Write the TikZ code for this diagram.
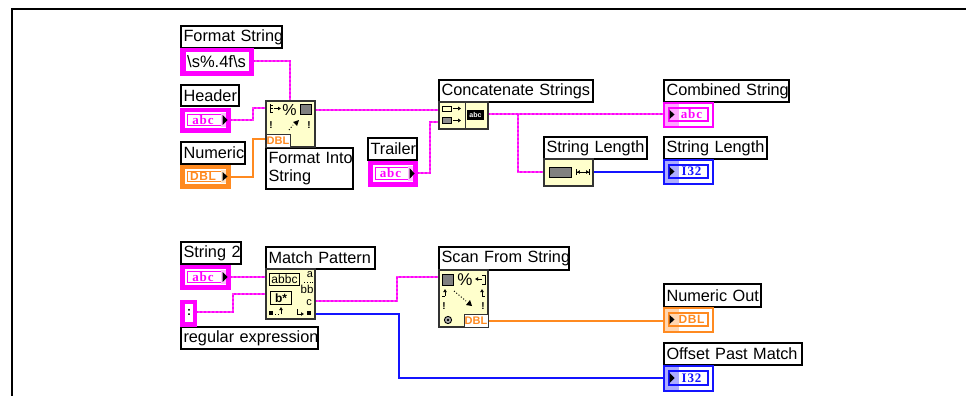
\documentclass[tikz,border=0pt]{standalone}
\usepackage{fontspec}
\setmainfont{Liberation Sans}
\newfontfamily\serifb[LetterSpace=7]{Liberation Serif}
\newfontfamily\sansb[LetterSpace=5]{Liberation Sans}
\usetikzlibrary{calc,arrows.meta}
\definecolor{pk}{HTML}{FF00FF}
\definecolor{pkw}{HTML}{FF40F0}
\definecolor{og}{HTML}{FF8A20}
\definecolor{bl}{HTML}{1414FF}
\definecolor{fy}{HTML}{FFFFCC}
\definecolor{edge}{HTML}{333333}
\tikzset{
  lbl/.style={draw=black,line width=1.3pt,fill=white,inner xsep=2.5pt,inner ysep=0pt,outer sep=0pt,align=left,font=\fontsize{16.3}{19}\selectfont,anchor=north west},
  func/.style={draw=edge,line width=1.2pt,fill=fy,inner sep=0pt,outer sep=0pt,anchor=north west},
  ctrlbox/.style={fill=#1,draw=#1,line width=0.5pt,inner sep=0pt,outer sep=0pt,anchor=north west},
  indbox/.style={fill=white,draw=#1,line width=1.6pt,inner sep=0pt,outer sep=0pt,anchor=north west},
  pw/.style={draw=pkw,line width=1.3pt,postaction={draw=pk,line width=2.4pt,dash pattern=on 2pt off 2pt}},
  ow/.style={draw=og,line width=1.3pt},
  bw/.style={draw=bl,line width=1.4pt},
  tag/.style={inner sep=0pt,font=\serifb\bfseries\fontsize{13}{13}\selectfont,text=#1},
  tagd/.style={inner sep=0pt,font=\sansb\bfseries\fontsize{12}{12}\selectfont,text=#1},
  dbl/.style={inner sep=0pt,font=\bfseries\fontsize{11}{11}\selectfont,text=og},
  ico/.style={inner sep=0pt,font=\fontsize{#1}{#1}\selectfont},
  icob/.style={inner sep=0pt,font=\bfseries\fontsize{10}{10}\selectfont},
  tri/.style={fill=black,draw=none},
  mini/.style={line width=1pt,draw=black}
}
\newcommand{\mylab}[6]{\pgfmathsetmacro\bw{#4-#2}\pgfmathsetmacro\bh{#5-#3}%
  \node[lbl,minimum width=\bw pt,minimum height=\bh pt,text width=\bw pt-5pt] (#1) at (#2,#3) {#6};}
\newcommand{\myctrl}[8]{\pgfmathsetmacro\bw{#4-#2}\pgfmathsetmacro\bh{#5-#3}%
  \node[ctrlbox=#6,minimum width=\bw pt,minimum height=\bh pt] (#1) at (#2,#3) {};
  \fill[white] (#2+5,#3+4) rectangle (#4-4,#5-4);
  \draw[#6,line width=1.1pt] (#2+7.5,#3+6.5) rectangle (#4-8,#5-6.5);
  \fill[#6!25] (#4-9,#3+5) rectangle (#4-4,#5-5);
  \fill[tri] (#4-7.5,#3+7) -- (#4-2.5,{(#3+#5)/2}) -- (#4-7.5,#5-7) -- cycle;
  \node[#8=#6] (#1t) at ({(#2+#4)/2-2},{(#3+#5)/2}) {#7};}
\newcommand{\myind}[8]{\pgfmathsetmacro\bw{#4-#2}\pgfmathsetmacro\bh{#5-#3}%
  \node[indbox=#6,minimum width=\bw pt,minimum height=\bh pt] (#1) at (#2,#3) {};
  \fill[#6!35] (#2+1,#3+1) rectangle (#2+15,#5-1);
  \draw[#6,line width=1.3pt] (#2+5,#3+5) rectangle (#4-5,#5-6);
  \node[#8=#6] (#1t) at ({(#2+#4)/2+3},{(#3+#5)/2-.5}) {#7};
  \fill[tri] (#2+5.5,#3+7) -- (#2+10.5,{(#3+#5)/2-.5}) -- (#2+5.5,#5-8) -- cycle;}
\begin{document}
\begin{tikzpicture}[x=1pt,y=-1pt]
\useasboundingbox (0,0) rectangle (966,396);
\fill[white] (0,0) rectangle (966,396);
\draw[black,line width=2.3pt] (12.2,396) -- (12.2,9.2) -- (966,9.2);

% terminals
\coordinate (fiA) at (266,108);
\coordinate (fiB) at (266,139);
\coordinate (fiT) at (290,101);
\coordinate (fiO) at (315,110);
\coordinate (caA) at (439,110);
\coordinate (caB) at (439,122);
\coordinate (caO) at (488,114);
\coordinate (csI) at (664,114);
\coordinate (slI) at (544,172);
\coordinate (slO) at (593,172);
\coordinate (mpA) at (266,277);
\coordinate (mpB) at (266,294);
\coordinate (mpO) at (315,301);
\coordinate (mpF) at (315,314);
\coordinate (sfI) at (439,277);
\coordinate (sfO) at (488,321);

% wires (behind)
\draw[pw] (253,61) -- (290,61) -- (fiT);
\draw[pw] (230,120) -- (253,120) -- (253,108) -- (fiA);
\draw[ow] (230,177) -- (253,177) -- (253,139) -- (fiB);
\draw[pw] (fiO) -- (caA);
\draw[pw] (417,173) -- (430,173) -- (430,122) -- (caB);
\draw[pw] (caO) -- (csI);
\draw[pw] (518,114) -- (518,172) -- (slI);
\draw[bw] (slO) -- (664,172);
\draw[pw] (230,277) -- (mpA);
\draw[pw] (196,312) -- (233,312) -- (233,294) -- (mpB);
\draw[pw] (mpO) -- (397,301) -- (397,277) -- (sfI);
\draw[bw] (mpF) -- (399,314) -- (399,378) -- (664,378);
\draw[ow] (sfO) -- (664,321);

% labels
\mylab{lFmt}{181}{26}{282}{48}{\mbox{Format String}}
\mylab{lHdr}{181}{85}{239}{106}{\mbox{Header}}
\mylab{lNum}{181}{142}{245}{164}{\mbox{Numeric}}
\mylab{lFis}{266}{148}{353}{189}{\mbox{Format Into}\\[-1pt]\mbox{String}}
\mylab{lCat}{439}{80}{593}{102}{\mbox{Concatenate Strings}}
\mylab{lTrl}{368}{138}{417}{160}{\mbox{Trailer}}
\mylab{lSl}{544}{137}{647}{159}{\mbox{String Length}}
\mylab{lCmb}{664}{80}{789}{102}{\mbox{Combined String}}
\mylab{lLen}{664}{137}{767}{159}{\mbox{String Length}}
\mylab{lS2}{181}{242}{241}{264}{\mbox{String 2}}
\mylab{lRe}{181}{327}{318}{349}{\mbox{regular expression}}
\mylab{lMp}{266}{247}{375}{269}{\mbox{Match Pattern}}
\mylab{lSf}{439}{247}{569}{270}{\mbox{Scan From String}}
\mylab{lNo}{664}{284}{761}{307}{\mbox{Numeric Out}}
\mylab{lOp}{664}{343}{802}{365}{\mbox{Offset Past Match}}

% string constant
\node[ctrlbox=pk,minimum width=73pt,minimum height=27pt] (kFmt) at (180,48) {};
\fill[white] (186,52) rectangle (249,71);
\node[inner sep=0pt,anchor=west,font=\fontsize{16.5}{16.5}\selectfont] (kFmtT) at (187,61.5) {\textbackslash s\%.4f\textbackslash s};
% colon constant
\node[ctrlbox=pk,minimum width=16pt,minimum height=26pt] (kRe) at (180,300) {};
\fill[white] (185,304) rectangle (193,322);
\node[inner sep=0pt,font=\bfseries\fontsize{12}{12}\selectfont] (kReT) at (189,312.5) {:};

% controls
\myctrl{cHdr}{180}{108}{230}{132}{pk}{abc}{tag}
\myctrl{cNum}{180}{165}{230}{188}{og}{DBL}{tagd}
\myctrl{cTrl}{368}{161}{417}{186}{pk}{abc}{tag}
\myctrl{cS2}{180}{265}{230}{289}{pk}{abc}{tag}

% indicators
\myind{iCmb}{664}{103}{713}{127}{pk}{abc}{tag}
\myind{iLen}{664}{160}{713}{184}{bl}{I32}{tag}
\myind{iNo}{664}{308}{713}{332}{og}{DBL}{tagd}
\myind{iOp}{664}{366}{713}{391}{bl}{I32}{tag}

% Format Into String
\node[func,minimum width=49pt,minimum height=46pt] (fFis) at (266,101) {};
\draw[mini] (270,104) -- (270,113);
\draw[mini] (270,105) -- (273,105) (270,108.5) -- (273,108.5) (270,112) -- (273,112);
\draw[mini,-{Latex[length=3pt,width=4pt]}] (274,108.5) -- (281,108.5);
\node[ico=16] (fFisP) at (289.5,110) {\%};
\fill[black!50] (300,104) rectangle (311,114); \draw[black,line width=.9pt] (300,104) rectangle (311,114);
\node[icob] (fFisX) at (271,125) {!};
\node[icob] (fFisY) at (309,125) {!};
\draw[black,line width=1pt,dotted] (289,130) -- (293,125);
\fill (293,122) -- (299,120) -- (297,126) -- cycle;
\node[draw=edge,line width=1pt,fill=white,minimum width=24pt,minimum height=13pt,inner sep=0pt,outer sep=0pt,anchor=north west,dbl] (fFisD) at (266,134) {DBL};

% Concatenate
\node[func,minimum width=49pt,minimum height=27pt] (fCat) at (439,102) {};
\draw[edge,line width=1pt] (465,102) -- (465,129);
\draw[black,line width=.9pt] (442,106) rectangle (451,111);
\fill[black!45] (442,117.5) rectangle (451,123); \draw[black,line width=.9pt] (442,117.5) rectangle (451,123);
\draw[mini,-{Latex[length=3pt,width=4.5pt]}] (453,108.5) -- (461,108.5);
\draw[mini,-{Latex[length=3pt,width=4.5pt]}] (453,120.5) -- (461,120.5);
\fill[black] (467,110) rectangle (484,120);
\node[inner sep=0pt,text=white,font=\bfseries\fontsize{7}{7}\selectfont] (fCatT) at (475.5,115) {abc};

% String Length
\node[func,minimum width=49pt,minimum height=27pt] (fSl) at (544,159) {};
\fill[black!50] (549,167) rectangle (571,177); \draw[black,line width=.9pt] (549,167) rectangle (571,177);
\draw[black,line width=.9pt,{|[width=6pt]Latex[length=3pt,width=4pt]}-{Latex[length=3pt,width=4pt]|[width=6pt]}] (576,172) -- (590,172);

% Match Pattern
\node[func,minimum width=49pt,minimum height=50pt] (fMp) at (266,269) {};
\node[draw=black,line width=1pt,fill=fy,minimum width=30pt,minimum height=12pt,inner sep=0pt,anchor=north west,font=\fontsize{12}{12}\selectfont] (fMpA) at (269,273) {abbc};
\node[draw=black,line width=1pt,fill=fy,minimum width=21pt,minimum height=13pt,inner sep=0pt,anchor=north west,font=\bfseries\fontsize{12}{12}\selectfont] (fMpB) at (270,291) {b*};
\node[ico=11] (fMpC) at (310,275) {a};
\node[ico=11.5] (fMpD) at (307,289.5) {bb};
\node[ico=11] (fMpE) at (309,303) {c};
\draw[black,line width=.8pt,dotted] (304,282) -- (314,282);
\fill[black] (269,311) rectangle (273,315);
\draw[mini,-{Latex[length=3pt,width=4pt]}] (281,314) -- (281,307);
\draw[black,line width=.8pt,dotted] (275,314) -- (279,314);
\draw[mini,-{Latex[length=3pt,width=4pt]}] (297,309) |- (304,314);
\fill[black] (307,311) rectangle (311,315);

% Scan From String
\node[func,minimum width=49pt,minimum height=57pt] (fSf) at (439,270) {};
\fill[black!50] (442,274) rectangle (453,285); \draw[black,line width=.9pt] (442,274) rectangle (453,285);
\node[ico=17] (fSfP) at (465,280) {\%};
\draw[mini,-{Latex[length=3pt,width=4pt]}] (482,279) -- (475,279);
\draw[black,line width=1pt] (482,275) -- (485,275) -- (485,284) -- (482,284);
\draw[mini,-{Latex[length=3pt,width=4pt]}] (445,296) -- (445,289);
\draw[mini] (442,296) -- (445,296);
\draw[mini,-{Latex[length=3pt,width=4pt]}] (482,296) -- (482,289);
\draw[mini] (482,296) -- (485,296);
\draw[black,line width=1pt,dotted] (454,291) -- (466,301);
\fill (472,306) -- (466,305) -- (470,300) -- cycle;
\node[icob] (fSfX) at (444,306) {!};
\node[icob] (fSfY) at (483,306) {!};
\draw[black,line width=.9pt,fill=black!30] (448,320) circle (3.6pt);
\fill[black] (448,320) circle (1.3pt);
\node[draw=edge,line width=1pt,fill=white,minimum width=24pt,minimum height=13pt,inner sep=0pt,outer sep=0pt,anchor=north west,dbl] (fSfD) at (464,314) {DBL};
\end{tikzpicture}
\end{document}
